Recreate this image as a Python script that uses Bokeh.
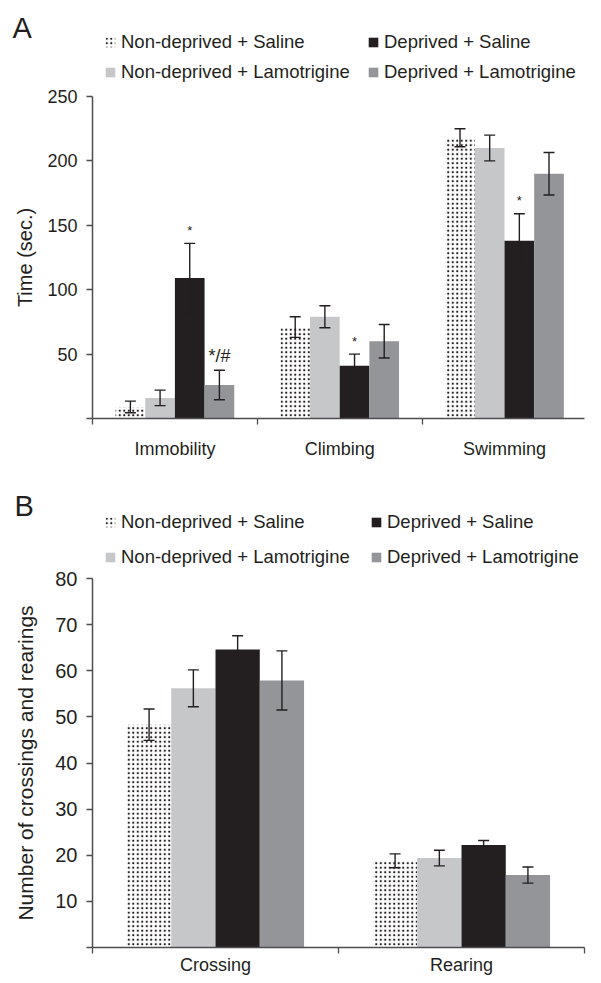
from bokeh.plotting import figure
from bokeh.models import (ColumnDataSource, Whisker, TeeHead, FixedTicker, Legend,
                          LegendItem, Label, Range1d)
from bokeh.layouts import column, row
from bokeh.embed import file_html
from bokeh.resources import INLINE
from bokeh.core.properties import value

# ---------------- data ----------------
groups = ["Non-deprived + Saline", "Non-deprived + Lamotrigine",
          "Deprived + Saline", "Deprived + Lamotrigine"]

a_categories = ["Immobility", "Climbing", "Swimming"]
a_nd_saline = [9, 71, 218]
a_nd_lamotrigine = [16, 79, 210]
a_d_saline = [109, 41, 138]
a_d_lamotrigine = [26, 60, 190]
a_nd_saline_sem = [4.5, 8, 7]
a_nd_lamotrigine_sem = [6, 8.5, 10]
a_d_saline_sem = [27, 9, 21]
a_d_lamotrigine_sem = [11.5, 13, 16.5]
a_nd_saline_sig = ["", "", ""]
a_nd_lamotrigine_sig = ["", "", ""]
a_d_saline_sig = ["*", "*", "*"]
a_d_lamotrigine_sig = ["*/#", "", ""]
a_y_ticks = [0, 50, 100, 150, 200, 250]
a_y_label = "Time (sec.)"

b_categories = ["Crossing", "Rearing"]
b_nd_saline = [48.3, 18.8]
b_nd_lamotrigine = [56.2, 19.4]
b_d_saline = [64.6, 22.2]
b_d_lamotrigine = [57.9, 15.7]
b_nd_saline_sem = [3.4, 1.5]
b_nd_lamotrigine_sem = [4.0, 1.7]
b_d_saline_sem = [3.0, 1.0]
b_d_lamotrigine_sem = [6.4, 1.75]
b_sig = ["", ""]
b_y_ticks = [0, 10, 20, 30, 40, 50, 60, 70, 80]
b_y_label = "Number of crossings and rearings"

# ---------------- style ----------------
INK = "#231f20"
AXIS = "#4d4d4f"
FONT = "Liberation Sans"
W = 601
LEFT = 92
styles = [
    dict(fill_color="white", hatch_pattern=".", hatch_color=INK, hatch_scale=4.5, hatch_weight=1),
    dict(fill_color="#c6c7c9"),
    dict(fill_color="#231f20"),
    dict(fill_color="#939598"),
]
offsets = [-0.27, -0.09, 0.09, 0.27]
BAR_W = 0.18


def blank(width, height):
    f = figure(width=width, height=height, output_backend="svg", toolbar_location=None,
               title=None, x_axis_location=None, y_axis_location=None,
               x_range=Range1d(0, width), y_range=Range1d(0, height), min_border=0)
    f.grid.visible = False
    f.outline_line_color = None
    f.background_fill_color = "white"
    f.border_fill_color = "white"
    return f


def make_header(letter, geo):
    lf = blank(LEFT, geo["hh"])
    lf.add_layout(Label(x=geo["letter"][0], y=geo["letter"][1], text=letter,
                        text_font=FONT, text_font_size="29px", text_color=INK,
                        text_baseline="alphabetic"))
    h = blank(W - LEFT, geo["hh"])
    items = []
    for name, st in zip(groups, styles):
        # zero-size swatch source: only used to style the legend key
        r = h.vbar(x=[0], top=[0], bottom=[0], width=0, line_color=None, **st)
        items.append(LegendItem(label=name, renderers=[r]))
    legend = Legend(items=items, location=geo["legloc"], orientation="vertical", nrows=2,
                    glyph_width=12, glyph_height=12, label_standoff=5,
                    label_width=geo["labw"], label_height=geo["itemh"], spacing=geo["spacing"],
                    padding=0, margin=0, border_line_color=None, background_fill_alpha=0,
                    label_text_font=FONT, label_text_font_size="18.5px", label_text_color=INK)
    h.add_layout(legend)
    return row(lf, h, spacing=0)


def make_panel(cats, means, sems, sigs, yticks, ylabel, geo):
    p = figure(width=W, height=geo["h"], output_backend="svg", toolbar_location=None,
               title=None,
               x_range=Range1d(0, geo["xend"]), y_range=Range1d(0, yticks[-1]),
               min_border_left=geo["l"], min_border_right=geo["r"],
               min_border_top=geo["t"], min_border_bottom=geo["b"])
    p.grid.visible = False
    p.outline_line_color = None
    p.background_fill_color = "white"
    p.border_fill_color = "white"

    for gi, (m, e, sg, st) in enumerate(zip(means, sems, sigs, styles)):
        xs = [i + 0.5 + offsets[gi] for i in range(len(cats))]
        up = [a + b for a, b in zip(m, e)]
        lo = [a - b for a, b in zip(m, e)]
        src = ColumnDataSource(dict(x=xs, top=m, upper=up, lower=lo))
        p.vbar(x="x", top="top", bottom=0, width=BAR_W, source=src, line_color=None, **st)
        w = Whisker(source=src, base="x", upper="upper", lower="lower",
                    line_color=INK, line_width=1.4, level="annotation",
                    upper_head=TeeHead(size=11, line_color=INK, line_width=1.4),
                    lower_head=TeeHead(size=11, line_color=INK, line_width=1.4))
        p.add_layout(w)
        sx = [x for x, s in zip(xs, sg) if s]
        sy = [u for u, s in zip(up, sg) if s]
        st_ = [s for s in sg if s]
        if st_:
            fs = ["13px" if s == "*" else "18px" for s in st_]
            yo = [-13 if s == "*" else -14 for s in st_]
            ssrc = ColumnDataSource(dict(x=sx, y=sy, t=st_, fs=fs, yo=yo))
            p.text(x="x", y="y", text="t", source=ssrc, text_font=value(FONT),
                   text_font_size="fs", y_offset="yo", text_align="center",
                   text_baseline="alphabetic", text_color=INK)

    xa = p.xaxis[0]
    xa.ticker = FixedTicker(ticks=[i + 0.5 for i in range(len(cats))],
                            minor_ticks=list(range(len(cats) + 1)))
    xa.major_label_overrides = {i + 0.5: c for i, c in enumerate(cats)}
    xa.major_tick_out = 0
    xa.major_tick_in = 0
    xa.major_tick_line_color = None
    xa.minor_tick_out = 6
    xa.minor_tick_in = 0
    xa.minor_tick_line_color = AXIS
    xa.minor_tick_line_width = 1.3
    xa.axis_line_color = AXIS
    xa.axis_line_width = 1.5
    xa.major_label_text_font = FONT
    xa.major_label_text_font_size = geo["xfs"]
    xa.major_label_text_color = INK
    xa.major_label_standoff = geo["xstand"]

    ya = p.yaxis[0]
    ya.ticker = FixedTicker(ticks=yticks)
    ya.major_label_overrides = {yticks[0]: ""}
    ya.major_tick_out = 6
    ya.major_tick_in = 0
    ya.major_tick_line_color = AXIS
    ya.major_tick_line_width = 1.3
    ya.minor_tick_line_color = None
    ya.axis_line_color = AXIS
    ya.axis_line_width = 1.5
    ya.major_label_text_font = FONT
    ya.major_label_text_font_size = geo["yfs"]
    ya.major_label_text_color = INK
    ya.major_label_standoff = geo["ystand"]
    ya.axis_label = ylabel
    ya.axis_label_text_font = FONT
    ya.axis_label_text_font_size = geo["lfs"]
    ya.axis_label_text_font_style = "normal"
    ya.axis_label_text_color = INK
    ya.axis_label_standoff = geo["lstand"]
    return p


hdr_a = dict(hh=84, legloc=(12, 1), labw=238, itemh=22, spacing=8, letter=(12, 57))
geo_a = dict(h=396, l=LEFT, r=0, t=12, b=62, xend=509 / 170.5,
             xfs="18px", xstand=14, yfs="18px", ystand=9, lfs="20px", lstand=8)
hdr_b = dict(hh=88, legloc=(12, 0), labw=236, itemh=20, spacing=13, letter=(14, 63))
geo_b = dict(h=415, l=LEFT, r=17, t=10, b=36, xend=2,
             xfs="18px", xstand=1, yfs="20px", ystand=9, lfs="21px", lstand=15)

ha = make_header("A", hdr_a)
pa = make_panel(a_categories,
                [a_nd_saline, a_nd_lamotrigine, a_d_saline, a_d_lamotrigine],
                [a_nd_saline_sem, a_nd_lamotrigine_sem, a_d_saline_sem, a_d_lamotrigine_sem],
                [a_nd_saline_sig, a_nd_lamotrigine_sig, a_d_saline_sig, a_d_lamotrigine_sig],
                a_y_ticks, a_y_label, geo_a)
hb = make_header("B", hdr_b)
pb = make_panel(b_categories,
                [b_nd_saline, b_nd_lamotrigine, b_d_saline, b_d_lamotrigine],
                [b_nd_saline_sem, b_nd_lamotrigine_sem, b_d_saline_sem, b_d_lamotrigine_sem],
                [b_sig, b_sig, b_sig, b_sig],
                b_y_ticks, b_y_label, geo_b)

layout = column(ha, pa, hb, pb, spacing=0)
open("out.html", "w").write(file_html(layout, INLINE))
